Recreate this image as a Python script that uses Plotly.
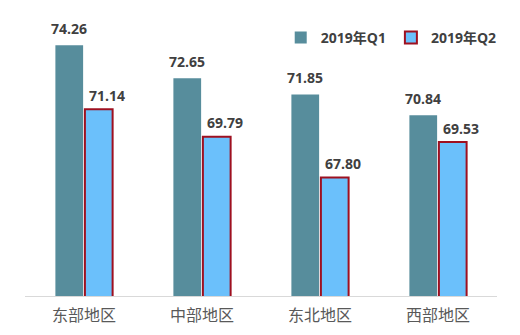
import plotly.graph_objects as go

categories = ["东部地区", "中部地区", "东北地区", "西部地区"]
q1_values = [74.26, 72.65, 71.85, 70.84]
q2_values = [71.14, 69.79, 67.80, 69.53]
series_names = ["2019年Q1", "2019年Q2"]

FONT = "Open Sans, Noto Sans CJK SC, sans-serif"

fig = go.Figure()
fig.add_trace(go.Bar(
    x=categories, y=q1_values, name=series_names[0],
    marker=dict(color="#578D9C", line=dict(width=0)),
))
fig.add_trace(go.Bar(
    x=categories, y=q2_values, name=series_names[1],
    marker=dict(color="#6BC0FB", line=dict(color="#9E1020", width=2)),
))

for vals, xs, ys in ((q1_values, -15, 17), (q2_values, 23, 14)):
    for c, v in zip(categories, vals):
        fig.add_annotation(
            x=c, y=v, xref="x", yref="y", text=f"{v:.2f}",
            showarrow=False, xshift=xs, yshift=ys, yanchor="middle",
            font=dict(family=FONT, size=14, color="#404040", weight="bold"),
        )

fig.update_layout(
    width=520, height=335,
    margin=dict(l=25, r=23, t=20, b=39, autoexpand=False),
    paper_bgcolor="white", plot_bgcolor="white",
    barmode="group", bargap=0.5, bargroupgap=0.06,
    showlegend=True,
    legend=dict(
        orientation="h", x=1.01, xanchor="right", y=0.935, yanchor="middle",
        font=dict(family=FONT, size=14, color="#404040", weight="bold"),
        itemwidth=30, traceorder="normal", bgcolor="rgba(0,0,0,0)",
        tracegroupgap=0,
    ),
    xaxis=dict(
        showline=True, linecolor="#D9D9D9", linewidth=1,
        ticks="", showgrid=False, ticklabelstandoff=5,
        tickfont=dict(family="Noto Sans CJK SC, sans-serif", size=16, color="#595959"),
    ),
    yaxis=dict(range=[62, 75.5], visible=False, showgrid=False, zeroline=False),
)

fig.write_html("out.html")
